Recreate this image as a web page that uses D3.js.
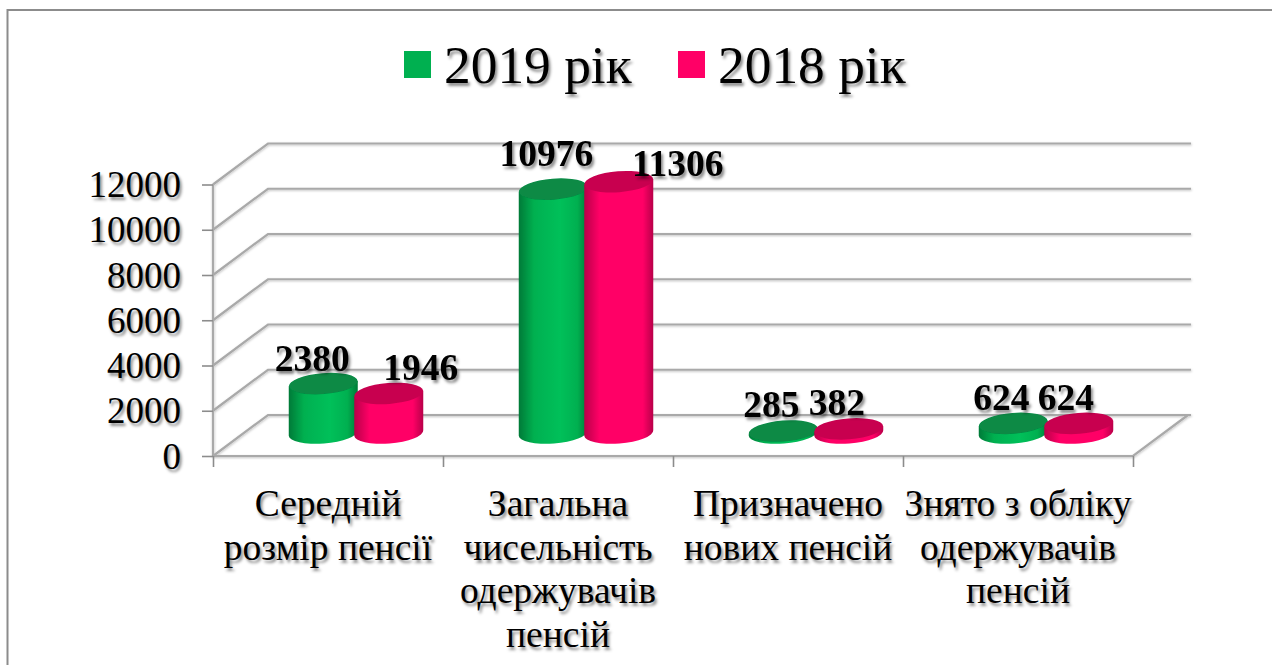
<!DOCTYPE html>
<html>
<head>
<meta charset="utf-8">
<script src="https://cdn.jsdelivr.net/npm/d3@7/dist/d3.min.js"></script>
<style>
html,body{margin:0;padding:0;background:#fff;overflow:hidden}
svg{display:block}
text{font-family:"Liberation Serif","Times New Roman",serif;fill:#000;text-shadow:2px 3px 3px rgba(0,0,0,.45)}
</style>
</head>
<body>
<svg id="c" width="1272" height="665"></svg>
<script>
const categories = ["Середній розмір пенсії","Загальна чисельність одержувачів пенсій","Призначено нових пенсій","Знято з обліку одержувачів пенсій"];
const categoryLines = [["Середній","розмір пенсії"],["Загальна","чисельність","одержувачів","пенсій"],["Призначено","нових пенсій"],["Знято з обліку","одержувачів","пенсій"]];
const seriesNames = ["2019 рік","2018 рік"];
const values2019 = [2380,10976,285,624];
const values2018 = [1946,11306,382,624];
const yTicks = [0,2000,4000,6000,8000,10000,12000];
const colors = ["#00b050","#ff0066"];
const sideDark = ["#007a38","#b80049"];
const sideLight = ["#00c05a","#ff0066"];
const capFill = ["#078a44","#c80050"];
// hand placement of the data labels relative to the top of each cylinder, as in the source
const labelDx = [[-11,32],[-7,59],[-12,-12],[-12,-13]];
const labelDy = [[-12,-12],[-22,-5],[-13,-13],[-12,-12]];

const svg = d3.select("#c");
const defs = svg.append("defs");
colors.forEach((c,i)=>{
  const g = defs.append("linearGradient").attr("id","side"+i);
  [[0,sideDark[i]],[.22,c],[.6,sideLight[i]],[.85,c],[1,sideDark[i]]].forEach(([o,col])=>g.append("stop").attr("offset",o).attr("stop-color",col));
});
const soft = defs.append("filter").attr("id","soft").attr("x","-5%").attr("y","-5%").attr("width","110%").attr("height","110%");
soft.append("feGaussianBlur").attr("stdDeviation",0.6);
const lineShadow = defs.append("filter").attr("id","ls").attr("filterUnits","userSpaceOnUse").attr("x",0).attr("y",0).attr("width",1272).attr("height",665);
lineShadow.append("feDropShadow").attr("dx",0.5).attr("dy",1).attr("stdDeviation",0.8).attr("flood-color","#000").attr("flood-opacity",.25);

// outer frame (only top and left edges fall inside the picture)
svg.append("path").attr("d","M7.5,665V10H1272").attr("fill","none").attr("stroke","#8c8c8c").attr("stroke-width",2);

const depthX = 55, depthY = 41;
const y = d3.scaleLinear().domain([0,12000]).range([456,184.5]);
const x = d3.scaleBand().domain(categories).range([213,1133]);
const xEdge = d3.scalePoint().domain([...categories,"end"]).range([213,1133]);
const xBar = d3.scaleBand().domain(categories).range([241,1161]);
const xSeries = d3.scaleBand().domain([0,1]).range([-65.5,65.5]);
const barBase = 433, topShift = 18.5, rx = 34.5, ry = 10.5, tilt = -4.5;
const barTop = v => y(v) - topShift;

const gridC = "#a9a9a9";
const grid = svg.append("g").attr("filter","url(#ls)").attr("fill","none").attr("stroke",gridC).attr("stroke-width",2.2);
grid.selectAll("path.g").data(yTicks).join("path").attr("class","g")
  .attr("d",d=>`M213,${y(d)}L${213+depthX},${y(d)-depthY}H${1133+depthX+3}`);
grid.append("path").attr("d",`M213,${y(12000)}V${y(0)}H1133L${1133+depthX},${y(0)-depthY}`);

const yAxis = svg.append("g").attr("transform","translate(213,0)")
  .call(d3.axisLeft(y).tickValues(yTicks).tickSize(11).tickPadding(10).tickFormat(d3.format("d")));
yAxis.select(".domain").remove();
yAxis.selectAll("line").attr("stroke","#8c8c8c").attr("stroke-width",1.6);
yAxis.selectAll("text").attr("font-size",37).attr("font-family",null).attr("dy","0.33em").attr("x",-32);

const xAxis = svg.append("g").attr("transform","translate(0,456)")
  .call(d3.axisBottom(xEdge).tickSize(11).tickFormat(""));
xAxis.select(".domain").remove();
xAxis.selectAll("line").attr("stroke","#8c8c8c").attr("stroke-width",1.6);

// category labels
const lineH = 43.5;
svg.append("g").selectAll("text").data(categories).join("text")
  .attr("text-anchor","middle").attr("font-size",37.5)
  .attr("transform",d=>`translate(${x(d)+x.bandwidth()/2},516)`)
  .each(function(d,i){
    d3.select(this).selectAll("tspan").data(categoryLines[i]).join("tspan")
      .attr("x",0).attr("y",(l,k)=>k*lineH).text(l=>l);
  });

// cylinders
const bars = svg.append("g").attr("filter","url(#soft)");
const seriesValues = [values2019,values2018];
categories.forEach((c,ci)=>{
  const cx0 = xBar(c)+xBar.bandwidth()/2;
  [0,1].forEach(si=>{
    const v = seriesValues[si][ci];
    const cx = cx0 + xSeries(si) + xSeries.bandwidth()/2;
    const h = Math.max(0, barBase - barTop(v));
    const g = bars.append("g").attr("transform",`translate(${cx},${barBase})`);
    const a = tilt*Math.PI/180;
    const dy = rx*Math.sin(a);
    g.append("path").attr("fill",`url(#side${si})`)
      .attr("d",`M${-rx},${-dy}L${-rx},${-dy-h}L${rx},${dy-h}L${rx},${dy}A${rx},${ry} ${tilt} 0 1 ${-rx},${-dy}Z`);
    g.append("ellipse").attr("cy",-h).attr("rx",rx).attr("ry",ry)
      .attr("transform",`rotate(${tilt} 0 ${-h})`).attr("fill",capFill[si]);
  });
});

// data labels
const labels = svg.append("g");
categories.forEach((c,ci)=>{
  const cx0 = xBar(c)+xBar.bandwidth()/2;
  [0,1].forEach(si=>{
    const v = seriesValues[si][ci];
    labels.append("text")
      .attr("x",cx0 + xSeries(si) + xSeries.bandwidth()/2 + labelDx[ci][si])
      .attr("y",barTop(v) + labelDy[ci][si] - 1)
      .attr("text-anchor","middle").attr("font-size",37.5).attr("font-weight","bold")
      .text(v);
  });
});

// legend
const legendX = d3.scalePoint().domain(seriesNames).range([404,678]);
const legend = svg.append("g");
seriesNames.forEach((n,i)=>{
  legend.append("rect").attr("x",legendX(n)).attr("y",51).attr("width",27).attr("height",27).attr("fill",colors[i]);
  legend.append("text").attr("x",legendX(n)+40).attr("y",83).attr("font-size",53.4).text(n);
});
</script>
</body>
</html>
